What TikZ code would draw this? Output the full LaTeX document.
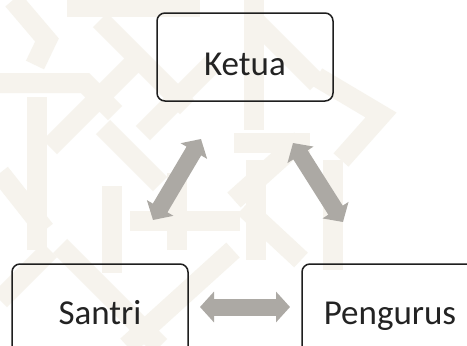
\documentclass[tikz,border=0pt]{standalone}
\usepackage{fontspec}
\setmainfont{Carlito}
\usetikzlibrary{arrows.meta}
\definecolor{wm}{RGB}{246,243,237}
\definecolor{arrowgray}{RGB}{172,169,164}
\definecolor{boxline}{RGB}{30,30,30}
\definecolor{txt}{RGB}{35,35,35}
\tikzset{
  box/.style={draw=boxline, line width=1.5pt, rounded corners=8pt,
    minimum width=176pt, text=txt, font=\fontsize{35}{40}\selectfont,
    inner sep=0pt},
  topbox/.style={box, minimum height=88pt, text height=36pt, text depth=0pt},
  botbox/.style={box, minimum height=98pt, text height=23pt, text depth=0pt},
  blockarrow/.style={draw=arrowgray, line width=17pt,
    {Triangle[width=30pt,length=14pt]}-{Triangle[width=30pt,length=14pt]}},
  band/.style={draw=wm, line width=20pt, line cap=butt, line join=miter}
}
\begin{document}
\begin{tikzpicture}[x=1pt,y=-1pt]
\useasboundingbox (0,0) rectangle (467,346);
\clip (0,0) rectangle (467,346);
\fill[white] (0,0) rectangle (467,346);
% faint background pattern
\begin{scope}
\draw[band] (67,7) -- (200,7);
\draw[band] (13,0) -- (47,40) -- (35,65);
\draw[band] (0,83) -- (85,83) -- (115,113);
\draw[band] (37,97) -- (37,250);
\draw[band] (100,20) -- (187,107);
\draw[band] (50,147) -- (133,64);
\draw[band] (103,127) -- (160,184);
\draw[band] (143,133) -- (213,63);
\draw[band] (0,173) -- (45,230);
\draw[band] (112,186) -- (112,273);
\draw[band] (130,221) -- (240,221);
\draw[band] (60,246) -- (160,346);
\draw[band] (127,346) -- (233,250);
\draw[band] (177,173) -- (177,250);
\draw[band] (254,0) -- (254,130);
\draw[band] (254,20) -- (317,83);
\draw[band] (317,77) -- (381,115) -- (341,160);
\draw[band] (234,143) -- (310,143);
\draw[band] (256,160) -- (256,260);
\draw[band] (333,160) -- (333,270);
\draw[band] (234,200) -- (301,140);
\draw[band] (244,207) -- (301,260);
\draw[band] (0,300) -- (50,250);
\end{scope}
% boxes
\node[topbox] (ketua) at (245,57) {Ketua};
\node[botbox] (santri) at (100,313) {Santri};
\node[botbox] (pengurus) at (390,313) {Pengurus};
% arrow end points
\coordinate (kl) at (201,139);
\coordinate (sl) at (153,220);
\coordinate (kr) at (293,143);
\coordinate (pr) at (343,222);
\coordinate (sh) at (200,307);
\coordinate (ph) at (290,307);
\draw[blockarrow] (sl) -- (kl);
\draw[blockarrow] (kr) -- (pr);
\draw[blockarrow] (sh) -- (ph);
\end{tikzpicture}
\end{document}
